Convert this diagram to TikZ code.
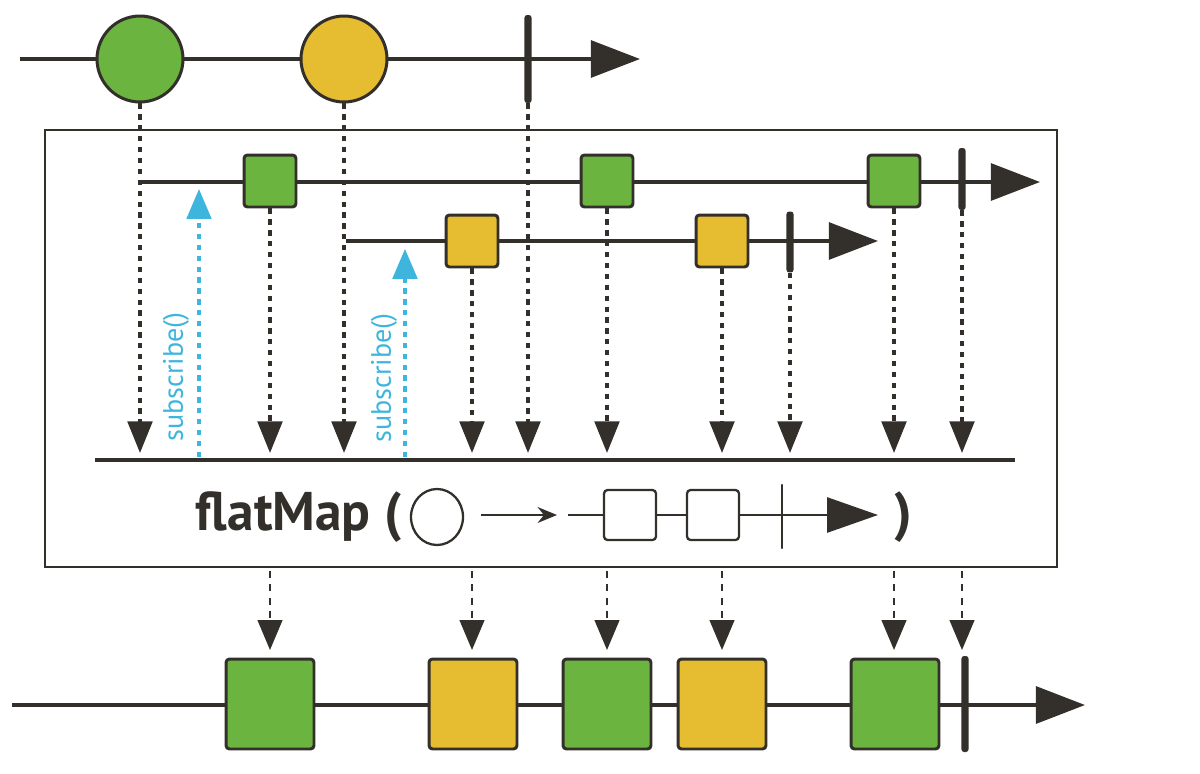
\documentclass[tikz,border=0pt]{standalone}
\usepackage{fontspec}
\setsansfont{PT Sans}
\usetikzlibrary{arrows.meta,positioning,shapes.geometric}
\definecolor{ink}{HTML}{33302B}
\definecolor{marblegreen}{HTML}{6BB43F}
\definecolor{marbleyellow}{HTML}{E6BC30}
\definecolor{subblue}{HTML}{3DB5DD}

\begin{document}
\begin{tikzpicture}[
    x=0.02cm, y=-0.02cm,
    timeline/.style={
        draw=ink,
        line width=2pt,
        -{Triangle[length=28pt,width=21pt]}
    },
    marble/.style={
        circle,
        draw=ink,
        line width=1.7pt,
        minimum size=1.72cm,
        inner sep=0pt
    },
    item/.style={
        rectangle,
        draw=ink,
        line width=1.7pt,
        rounded corners=2pt,
        minimum size=1.04cm,
        inner sep=0pt
    },
    bigitem/.style={
        item,
        minimum width=1.76cm,
        minimum height=1.8cm
    },
    endbar/.style={
        rectangle,
        fill=ink,
        rounded corners=1.5pt,
        minimum width=4pt,
        inner sep=0pt
    },
    drop/.style={
        draw=ink,
        line width=2pt,
        dash pattern=on 3pt off 3.2pt,
        -{Triangle[length=18pt,width=14pt]}
    },
    outdrop/.style={
        draw=ink,
        line width=1.3pt,
        dash pattern=on 4pt off 3.5pt,
        -{Triangle[length=17pt,width=14pt]}
    },
    subarrow/.style={
        draw=subblue,
        line width=1.8pt,
        dash pattern=on 3pt off 3.2pt,
        -{Triangle[length=17pt,width=14pt]}
    },
    sublabel/.style={
        text=subblue,
        font=\sffamily\fontsize{16}{16}\selectfont,
        rotate=90,
        inner sep=0pt
    }
]
\useasboundingbox (0,0) rectangle (1200,774);

% Source timeline
\coordinate (srcL) at (20,59);
\coordinate (srcR) at (640,59);
\draw[timeline] (srcL) -- (srcR);
\node[marble, fill=marblegreen] (src1) at (140,59) {};
\node[marble, fill=marbleyellow] (src2) at (344,59) {};
\node[endbar, minimum height=1.76cm] (srcbar) at (528,59) {};

% Operator box
\node[draw=ink, line width=1.4pt, minimum width=20.24cm, minimum height=8.74cm, inner sep=0pt] (op) at (551,348.5) {};

% Inner timelines
\coordinate (in1L) at (142,182);
\coordinate (in1R) at (1040,182);
\draw[timeline] (in1L) -- (in1R);
\node[item, fill=marblegreen] (in1a) at (270,181) {};
\node[item, fill=marblegreen] (in1b) at (607,181) {};
\node[item, fill=marblegreen] (in1c) at (894,181) {};
\node[endbar, minimum height=1.24cm] (in1bar) at (962,179) {};

\coordinate (in2L) at (346,241);
\coordinate (in2R) at (878,241);
\draw[timeline] (in2L) -- (in2R);
\node[item, fill=marbleyellow] (in2a) at (472,241) {};
\node[item, fill=marbleyellow] (in2b) at (722,241) {};
\node[endbar, minimum height=1.22cm] (in2bar) at (790,242) {};

% Merge line
\coordinate (mergeL) at (95,460);
\coordinate (mergeR) at (1015,460);
\coordinate (mergetip) at (0,453);
\draw[ink, line width=2pt] (mergeL) -- (mergeR);

% Drops to merge line
\foreach \n in {src1,in1a,src2,in2a,srcbar,in1b,in2b,in2bar,in1c,in1bar}
    \draw[drop] (\n) -- (\n |- mergetip);

% Subscriptions
\coordinate (sub1) at (199,457);
\coordinate (sub2) at (405,457);
\draw[subarrow, shorten >=4pt] (sub1) -- (sub1 |- in1L);
\draw[subarrow, shorten >=4.5pt] (sub2) -- (sub2 |- in2L);
\node[sublabel] (sub1text) at (176,377) {subscribe()};
\node[sublabel] (sub2text) at (384,378) {subscribe()};

% Operator label
\node[anchor=base east, inner sep=0pt, text=ink, font=\sffamily\bfseries\fontsize{31}{31}\selectfont] (opname) at (402,530) {\scalebox{0.98}[1]{flatMap (}};
\node[ellipse, draw=ink, line width=1.3pt, minimum width=1.04cm, minimum height=1.12cm, inner sep=0pt] (keyin) at (437,517) {};
\coordinate (keyL) at (568,515);
\coordinate (keyR) at (878,515);
\draw[ink, line width=1.3pt, -{Stealth[length=11pt,width=9pt]}] (481,515) -- (557,515);
\draw[ink, line width=1.3pt, -{Triangle[length=29pt,width=20pt]}] (keyL) -- (keyR);
\node[item, draw=ink, line width=1.3pt, fill=white, minimum height=1.0cm] (key1) at (630,515) {};
\node[item, draw=ink, line width=1.3pt, fill=white, minimum height=1.0cm] (key2) at (713,515) {};
\draw[ink, line width=1.4pt, line cap=round] (782,485) -- (782,548);
\node[anchor=base, inner sep=0pt, text=ink, font=\sffamily\bfseries\fontsize{31}{31}\selectfont] (closep) at (903,530) {)};

% Output timeline
\coordinate (outL) at (12,705);
\coordinate (outR) at (1085,705);
\coordinate (outtip) at (0,650);
\draw[timeline, line width=2.2pt] (outL) -- (outR);
\node[bigitem, fill=marblegreen] (out1) at (270,704) {};
\node[bigitem, fill=marbleyellow] (out2) at (473,704) {};
\node[bigitem, fill=marblegreen] (out3) at (607,704) {};
\node[bigitem, fill=marbleyellow] (out4) at (722,704) {};
\node[bigitem, fill=marblegreen] (out5) at (895,704) {};
\node[endbar, minimum height=1.92cm] (outbar) at (965,704) {};

% Drops out of the box
\foreach \n in {in1a,in2a,in1b,in2b,in1c,in1bar}
    \draw[outdrop] (\n |- op.south) ++(0,3) -- (\n |- outtip);

\end{tikzpicture}
\end{document}
